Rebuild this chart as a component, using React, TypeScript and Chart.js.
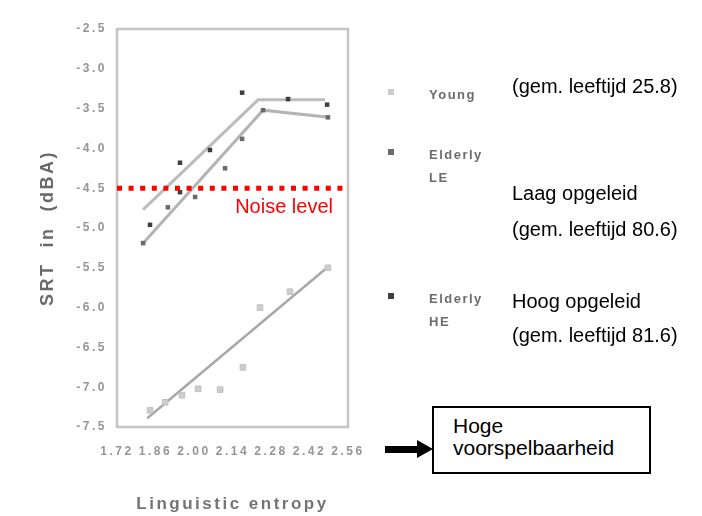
import React, { useEffect, useRef } from "react";
import { Chart, registerables } from "chart.js";

Chart.register(...registerables);
Chart.defaults.font.family = '"Liberation Sans", Arial, sans-serif';

// Axis ticks
const xTicks = [1.72, 1.86, 2.0, 2.14, 2.28, 2.42, 2.56];
const yTicks = [-7.5, -7.0, -6.5, -6.0, -5.5, -5.0, -4.5, -4.0, -3.5, -3.0, -2.5];

// Young listeners
const youngEntropy = [1.84, 1.895, 1.956, 2.015, 2.095, 2.178, 2.24, 2.349, 2.487];
const youngSrt = [-7.29, -7.19, -7.1, -7.02, -7.03, -6.75, -6.0, -5.8, -5.5];
const youngFitEntropy = [1.83, 2.49];
const youngFitSrt = [-7.39, -5.48];

// Elderly, lower education
const leEntropy = [1.815, 1.905, 2.004, 2.113, 2.175, 2.251, 2.487];
const leSrt = [-5.19, -4.74, -4.61, -4.25, -3.88, -3.52, -3.61];
const leFitEntropy = [1.81, 2.251, 2.49];
const leFitSrt = [-5.21, -3.52, -3.61];

// Elderly, higher education
const heEntropy = [1.84, 1.949, 1.949, 2.058, 2.175, 2.342, 2.484];
const heSrt = [-4.96, -4.55, -4.18, -4.02, -3.3, -3.38, -3.45];
const heFitEntropy = [1.815, 2.233, 2.476];
const heFitSrt = [-4.77, -3.39, -3.39];

const noiseLevel = -4.5;
const legendLabels = [["Young"], ["Elderly", "LE"], ["Elderly", "HE"]];
const legendRows = [63, 123, 267];

const toPoints = (xs: number[], ys: number[]) => xs.map((x, i) => ({ x, y: ys[i] }));

const FONT = '"Liberation Sans", Arial, sans-serif';

const noteText: React.CSSProperties = {
  position: "absolute",
  fontFamily: FONT,
  fontSize: 20,
  lineHeight: "20px",
  color: "#000",
  whiteSpace: "nowrap",
};

export default function App() {
  const canvasRef = useRef<HTMLCanvasElement | null>(null);
  const overlayRef = useRef<HTMLCanvasElement | null>(null);

  useEffect(() => {
    if (!canvasRef.current || !overlayRef.current) return;
    const overlay = overlayRef.current;

    const chartDecor = {
      id: "chartDecor",
      beforeDraw(chart: any) {
        chart.ctx.letterSpacing = "2.5px";
      },
      beforeDatasetsDraw(chart: any) {
        const { ctx, chartArea: a } = chart;
        ctx.save();
        ctx.strokeStyle = "#c4c4c4";
        ctx.lineWidth = 2.5;
        ctx.strokeRect(a.left, a.top, a.right - a.left, a.bottom - a.top);
        ctx.restore();
      },
      afterDraw(chart: any) {
        const { ctx, chartArea: a } = chart;
        // legend: marker plus stacked labels
        ctx.save();
        legendLabels.forEach((lines, i) => {
          const ds = chart.data.datasets[i];
          const y = a.top + legendRows[i];
          ctx.fillStyle = ds.backgroundColor;
          ctx.fillRect(a.right + 40, y - 3, 6, 6);
          ctx.fillStyle = "#6c6c6c";
          ctx.font = `bold 13px ${FONT}`;
          ctx.textBaseline = "middle";
          ctx.textAlign = "left";
          ctx.letterSpacing = "1.5px";
          lines.forEach((t, j) => ctx.fillText(t, a.right + 81, y + 3 + j * 23));
        });
        ctx.restore();
        ctx.letterSpacing = "0px";

        // noise level annotation on the sharp overlay
        const o = overlay.getContext("2d");
        if (!o) return;
        o.clearRect(0, 0, overlay.width, overlay.height);
        const yPix = chart.scales.y.getPixelForValue(noiseLevel);
        o.save();
        o.strokeStyle = "#ff0000";
        o.lineWidth = 5;
        o.setLineDash([5, 6.6]);
        o.beginPath();
        o.moveTo(a.left, yPix);
        o.lineTo(a.right, yPix);
        o.stroke();
        o.setLineDash([]);
        o.fillStyle = "#ff0000";
        o.font = `20px ${FONT}`;
        o.textAlign = "right";
        o.textBaseline = "alphabetic";
        o.fillText("Noise level", a.right - 15, yPix + 25);
        o.restore();
      },
    };

    const chart = new Chart(canvasRef.current, {
      type: "scatter",
      data: {
        datasets: [
          {
            label: "Young",
            data: toPoints(youngEntropy, youngSrt),
            pointStyle: "rect",
            pointRadius: 4,
            backgroundColor: "#cdcdcd",
            borderColor: "#c2c2c2",
            borderWidth: 1,
            showLine: false,
            order: 0,
          },
          {
            label: "Elderly LE",
            data: toPoints(leEntropy, leSrt),
            pointStyle: "rect",
            pointRadius: 3.2,
            backgroundColor: "#6a6a6a",
            borderColor: "#6a6a6a",
            borderWidth: 0,
            showLine: false,
            order: 0,
          },
          {
            label: "Elderly HE",
            data: toPoints(heEntropy, heSrt),
            pointStyle: "rect",
            pointRadius: 3.2,
            backgroundColor: "#3e3e3e",
            borderColor: "#3e3e3e",
            borderWidth: 0,
            showLine: false,
            order: 0,
          },
          {
            label: "Young fit",
            data: toPoints(youngFitEntropy, youngFitSrt),
            showLine: true,
            pointRadius: 0,
            borderColor: "#a8a8a8",
            borderWidth: 2.5,
            order: 1,
          },
          {
            label: "Elderly LE fit",
            data: toPoints(leFitEntropy, leFitSrt),
            showLine: true,
            pointRadius: 0,
            borderColor: "#b4b4b4",
            borderWidth: 3,
            order: 1,
          },
          {
            label: "Elderly HE fit",
            data: toPoints(heFitEntropy, heFitSrt),
            showLine: true,
            pointRadius: 0,
            borderColor: "#bcbcbc",
            borderWidth: 3,
            order: 1,
          },
        ],
      },
      options: {
        animation: false,
        responsive: false,
        layout: { padding: { left: 0, top: 29, right: 354, bottom: 0 } },
        plugins: { legend: { display: false }, tooltip: { enabled: false } },
        scales: {
          x: {
            type: "linear",
            min: xTicks[0],
            max: xTicks[xTicks.length - 1],
            afterBuildTicks: (s: any) => {
              s.ticks = xTicks.map((value) => ({ value }));
            },
            afterFit: (s: any) => {
              s.height = 89;
              s.paddingLeft = 0;
              s.paddingRight = 0;
            },
            grid: { display: false, drawTicks: false },
            border: { display: false },
            ticks: {
              autoSkip: false,
              maxRotation: 0,
              minRotation: 0,
              padding: 17,
              color: "#959595",
              font: { size: 12, weight: "bold" },
              callback: (v: any) => Number(v).toFixed(2),
            },
            title: {
              display: true,
              text: "Linguistic entropy",
              color: "#747474",
              font: { size: 17, weight: "bold" },
              padding: { top: 0, bottom: 1 },
            },
          },
          y: {
            type: "linear",
            min: yTicks[0],
            max: yTicks[yTicks.length - 1],
            afterBuildTicks: (s: any) => {
              s.ticks = yTicks.map((value) => ({ value }));
            },
            afterFit: (s: any) => {
              s.width = 117;
            },
            grid: { display: false, drawTicks: false },
            border: { display: false },
            ticks: {
              autoSkip: false,
              padding: 10,
              color: "#959595",
              font: { size: 12, weight: "bold" },
              callback: (v: any) => Number(v).toFixed(1),
            },
            title: {
              display: true,
              text: "SRT  in  (dBA)",
              color: "#6a6a6a",
              font: { size: 18, weight: "bold" },
              padding: { top: 37, bottom: 0 },
            },
          },
        },
      },
      plugins: [chartDecor],
    } as any);
    return () => chart.destroy();
  }, []);

  return (
    <div
      style={{
        position: "fixed",
        left: 0,
        top: 0,
        width: 702,
        height: 516,
        background: "#fff",
        overflow: "hidden",
      }}
    >
      <canvas
        ref={canvasRef}
        width={702}
        height={516}
        style={{ display: "block", position: "absolute", left: 0, top: 0, filter: "blur(0.7px)" }}
      />
      <canvas
        ref={overlayRef}
        width={702}
        height={516}
        style={{ display: "block", position: "absolute", left: 0, top: 0 }}
      />
      <div style={{ ...noteText, left: 512, top: 76 }}>(gem. leeftijd 25.8)</div>
      <div style={{ ...noteText, left: 512, top: 183 }}>Laag opgeleid</div>
      <div style={{ ...noteText, left: 512, top: 219 }}>(gem. leeftijd 80.6)</div>
      <div style={{ ...noteText, left: 512, top: 291 }}>Hoog opgeleid</div>
      <div style={{ ...noteText, left: 512, top: 325 }}>(gem. leeftijd 81.6)</div>

      <svg width={48} height={18} style={{ position: "absolute", left: 385, top: 440 }}>
        <rect x={0} y={6} width={33} height={7} fill="#000" />
        <polygon points="32,0 48,9 32,18" fill="#000" />
      </svg>
      <div
        style={{
          position: "absolute",
          left: 432,
          top: 406,
          width: 219,
          height: 68,
          boxSizing: "border-box",
          border: "2px solid #000",
          background: "#fff",
        }}
      >
        <div style={{ ...noteText, fontSize: 21, lineHeight: "21px", left: 19, top: 7 }}>Hoge</div>
        <div style={{ ...noteText, fontSize: 21, lineHeight: "21px", left: 19, top: 29 }}>
          voorspelbaarheid
        </div>
      </div>
    </div>
  );
}
